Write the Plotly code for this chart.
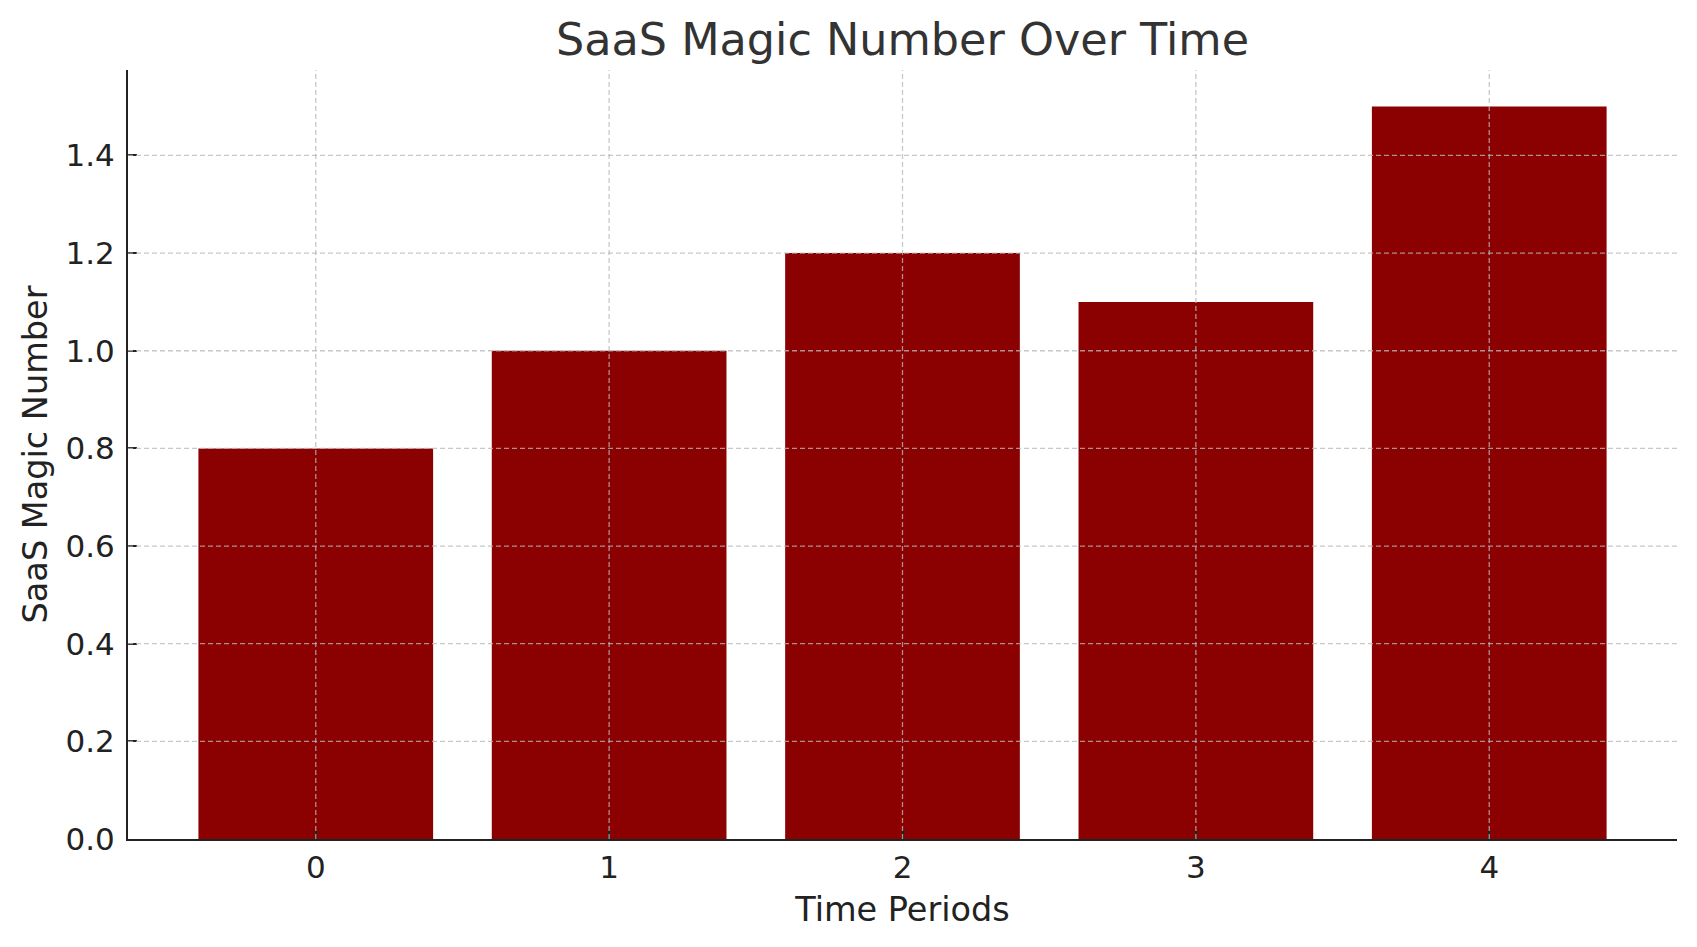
import plotly.graph_objects as go

periods = [0, 1, 2, 3, 4]
magic_number = [0.8, 1.0, 1.2, 1.1, 1.5]
y_ticks = [0.0, 0.2, 0.4, 0.6, 0.8, 1.0, 1.2, 1.4]

fig = go.Figure()
fig.add_trace(go.Bar(x=periods, y=magic_number, marker_color="#8b0000",
                     marker_line_width=0, width=0.8))

grid = "rgba(185,185,185,0.78)"
font = "DejaVu Sans"

# grid drawn on top of the bars, like the original
for p in periods:
    fig.add_vline(x=p, line=dict(color=grid, width=1.3, dash="5px,3px"), layer="above")
for v in y_ticks[1:]:
    fig.add_hline(y=v, line=dict(color=grid, width=1.3, dash="5px,3px"), layer="above")

fig.update_layout(
    width=1697, height=947,
    margin=dict(l=120, r=28, t=62, b=116),
    plot_bgcolor="white", paper_bgcolor="white",
    showlegend=False,
    font=dict(family=font, color="#222222"),
    title=dict(text="SaaS Magic Number Over Time", x=0.5, xref="paper",
               y=1 - 31 / 947, yanchor="middle",
               font=dict(size=44.5, color="#333333", family=font)),
)
fig.update_xaxes(
    range=[-0.64, 4.64], tickvals=periods, ticktext=[str(p) for p in periods],
    showgrid=False,
    showline=True, linecolor="#222222", linewidth=2,
    ticks="inside", ticklen=9, tickwidth=1.5, tickcolor="#222222",
    tickfont=dict(size=31), zeroline=False, layer="above traces",
    title=dict(text="Time Periods", font=dict(size=33.5), standoff=13),
)
fig.update_yaxes(
    range=[0, 1.575], tickvals=y_ticks, ticktext=[f"{v:.1f}" for v in y_ticks],
    showgrid=False,
    showline=True, linecolor="#222222", linewidth=2,
    ticks="inside", ticklen=9, tickwidth=1.5, tickcolor="#222222",
    tickfont=dict(size=31), zeroline=False, layer="above traces",
    ticklabelstandoff=5,
    title=dict(text="SaaS Magic Number", font=dict(size=33.5), standoff=8),
)

fig.write_html("out.html")
